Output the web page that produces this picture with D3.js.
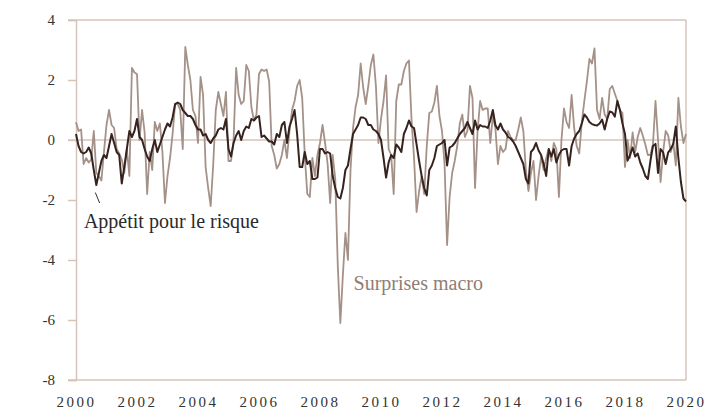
<!DOCTYPE html>
<html>
<head>
<meta charset="utf-8">
<script src="https://cdn.jsdelivr.net/npm/d3@7"></script>
<style>
  body { margin: 0; background: #fff; }
  svg text { font-family: "Liberation Serif", "DejaVu Serif", serif; font-variant-numeric: oldstyle-nums; }
</style>
</head>
<body>
<div id="chart"></div>
<script>
// monthly, Jan 2000 -> Jan 2020
var startYear = 2000;
var appetit = [
  0.2,-0.2,-0.4,-0.45,-0.4,-0.25,-0.45,-1.0,-1.5,-1.1,-0.7,-0.5,
  -0.6,-0.2,0.2,-0.1,-0.4,-0.5,-1.45,-0.9,-0.3,0.3,0.1,0.3,
  0.7,0.1,0.0,-0.3,-0.55,-0.7,-0.3,0.0,-0.4,-0.15,0.1,0.35,
  0.55,0.45,0.75,1.2,1.25,1.2,1.0,0.9,0.8,0.8,0.7,0.5,
  0.35,0.35,0.15,0.2,0.0,-0.1,0.05,0.15,0.35,0.4,0.35,0.7,
  -0.3,-0.55,-0.1,0.15,0.3,0.0,0.3,0.45,0.4,0.7,0.65,0.75,
  0.8,0.1,0.15,0.05,-0.05,-0.05,-0.15,0.2,0.1,0.5,0.6,-0.1,
  0.45,0.7,1.0,0.2,-0.9,-0.9,-0.4,-0.8,-0.7,-1.3,-1.3,-1.25,
  -0.3,-0.3,-0.45,-0.4,-0.45,-1.2,-1.6,-1.9,-1.95,-1.6,-1.0,-0.85,
  -0.3,0.2,0.35,0.5,0.75,0.75,0.7,0.5,0.5,0.35,0.3,0.2,
  0.0,-0.6,-1.25,-0.75,-0.5,-0.6,-0.15,-0.25,-0.4,0.2,0.4,0.65,
  0.45,0.4,-0.15,-0.7,-1.2,-1.6,-1.85,-1.0,-0.85,-0.6,-0.2,-0.15,
  -0.1,0.0,-0.85,-0.25,-0.2,-0.1,0.05,0.2,0.3,0.4,0.6,0.4,
  0.2,0.65,0.35,0.5,0.45,0.45,0.4,0.65,1.0,0.5,0.35,0.55,
  0.35,0.25,0.1,0.05,-0.05,-0.2,-0.4,-0.6,-0.8,-1.3,-1.45,-0.4,
  -0.3,-0.1,-0.35,-0.5,-0.8,-1.2,-0.3,-0.55,-0.3,-0.75,-0.5,-0.35,
  -0.3,-0.3,-0.85,-0.2,0.05,0.2,0.3,0.55,0.85,0.75,0.6,0.53,
  0.5,0.48,0.55,0.68,0.35,0.7,0.95,0.92,0.78,1.3,1.0,0.55,
  0.2,-0.69,-0.5,-0.25,-0.55,-0.45,-0.75,-0.95,-1.2,-1.3,-0.7,-0.2,
  -0.13,-1.1,-0.3,-0.41,-0.8,-0.41,-0.3,-0.13,0.45,-0.6,-1.4,-1.95,
  -2.05
];
var surprises = [
  0.59,0.3,0.35,-0.8,-0.6,-0.75,-0.65,0.3,-1.1,-1.2,-1.35,-0.4,
  0.5,1.0,0.5,0.4,-0.3,-0.45,-0.65,-1.1,-0.3,-1.2,2.4,2.25,
  2.2,0.0,1.0,0.25,-1.8,-0.4,-1.0,0.6,0.3,0.55,-0.4,-2.1,
  -1.2,-0.6,0.2,1.2,1.2,1.0,-0.3,3.1,2.5,2.0,1.0,0.8,
  -0.1,2.1,1.5,-0.9,-1.6,-2.2,-0.8,1.0,1.6,1.2,0.8,1.6,
  -0.7,-0.7,0.0,2.4,1.5,1.2,1.3,2.5,2.3,1.1,0.65,0.85,
  2.2,2.35,2.3,2.35,1.95,-0.2,-0.5,-0.95,-0.8,-0.5,0.0,-0.6,
  0.3,1.0,1.3,1.8,2.0,1.4,-0.5,-1.8,-1.9,-0.6,-1.2,-0.5,
  -0.1,0.5,-0.1,-0.8,-2.1,-0.5,-1.3,-4.2,-6.1,-4.5,-3.1,-4.0,
  -1.0,0.4,1.1,1.5,2.55,1.75,1.2,1.8,2.5,2.85,1.8,-0.1,
  0.7,1.3,2.15,-0.3,-0.5,-1.8,1.3,1.85,1.85,2.3,2.55,2.65,
  0.7,-0.6,-2.4,-1.7,-1.2,-1.8,-0.2,0.9,0.95,1.25,1.8,0.8,
  0.3,-0.8,-3.5,-1.9,-1.1,-0.7,-0.2,0.55,0.85,0.1,0.3,1.8,
  1.4,-1.6,0.3,1.3,1.0,1.05,1.05,-0.1,0.8,0.4,-0.8,-0.2,
  -0.4,-0.3,0.3,0.1,0.0,0.0,0.35,0.75,0.3,-1.0,-1.7,-1.1,
  -0.7,-2.0,-1.2,-0.55,-1.0,-0.6,-0.3,-0.7,-0.1,-0.3,-1.9,0.0,
  1.05,0.6,0.4,1.5,0.4,-0.2,-0.45,0.6,1.3,1.95,2.7,2.55,
  3.05,1.0,0.7,1.4,0.85,0.7,1.7,1.8,1.55,1.3,1.0,0.9,
  -0.9,0.0,-0.6,0.25,-0.4,0.1,0.4,0.15,-0.15,-0.5,-0.5,-0.15,
  1.3,0.0,-1.4,-0.4,0.3,0.15,-0.4,-0.1,-0.85,1.4,0.45,-0.1,
  0.2
];
var xTicks = [2000, 2002, 2004, 2006, 2008, 2010, 2012, 2014, 2016, 2018, 2020];
var yTicks = [4, 2, 0, -2, -4, -6, -8];

var W = 718, H = 414;
var margin = {top: 20, right: 32, bottom: 34, left: 76},
    width = W - margin.left - margin.right,
    height = H - margin.top - margin.bottom;

var axisColor = "#d6c4bb";

var svg = d3.select("#chart").append("svg")
    .attr("width", W).attr("height", H);
var g = svg.append("g")
    .attr("transform", "translate(" + margin.left + "," + margin.top + ")");

var x = d3.scaleLinear().domain([2000, 2020]).range([0, width]);
var y = d3.scaleLinear().domain([-8, 4]).range([height, 0]);

// y axis with short ticks to the left
var yAxis = g.append("g")
    .call(d3.axisLeft(y).tickValues(yTicks).tickSize(8).tickPadding(13).tickFormat(function(d) { return String(d); }));
yAxis.select(".domain").attr("stroke", axisColor).attr("stroke-width", 1.5);
yAxis.selectAll(".tick line").attr("stroke", axisColor).attr("stroke-width", 1.5);
yAxis.selectAll("text").attr("fill", "#333").style("font-size", "15px");

// x axis labels
var xAxis = g.append("g")
    .attr("transform", "translate(0," + height + ")")
    .call(d3.axisBottom(x).tickValues(xTicks).tickSize(0).tickPadding(16).tickFormat(d3.format("d")));
xAxis.select(".domain").remove();
xAxis.selectAll("text").attr("fill", "#333").style("font-size", "15px").style("letter-spacing", "2.5px");

// frame + zero line
[4, 0, -8].forEach(function(v) {
    g.append("line")
        .attr("x1", -8).attr("x2", width)
        .attr("y1", y(v)).attr("y2", y(v))
        .attr("stroke", axisColor).attr("stroke-width", 1.5);
});
g.append("line")
    .attr("x1", width).attr("x2", width)
    .attr("y1", 0).attr("y2", height)
    .attr("stroke", axisColor).attr("stroke-width", 1.5);

var line = d3.line()
    .x(function(d, i) { return x(startYear + i / 12); })
    .y(function(d) { return y(d); });

g.append("path")
    .attr("d", line(surprises))
    .attr("fill", "none")
    .attr("stroke", "#a49187")
    .attr("stroke-width", 1.8)
    .attr("stroke-linejoin", "round");

g.append("path")
    .attr("d", line(appetit))
    .attr("fill", "none")
    .attr("stroke", "#36231f")
    .attr("stroke-width", 2)
    .attr("stroke-linejoin", "round");

// labels
g.append("line")
    .attr("x1", x(2000 + 7.6 / 12)).attr("y1", y(-1.75))
    .attr("x2", x(2000 + 9.3 / 12)).attr("y2", y(-2.1))
    .attr("stroke", "#333").attr("stroke-width", 1);
g.append("text")
    .attr("x", x(2000.26)).attr("y", y(-2.93))
    .attr("fill", "#2a2a2a")
    .style("font-size", "20px")
    .text("Appétit pour le risque");
g.append("text")
    .attr("x", x(2009.1)).attr("y", y(-5.0))
    .attr("fill", "#8f7d74")
    .style("font-size", "20px")
    .text("Surprises macro");
</script>
</body>
</html>
